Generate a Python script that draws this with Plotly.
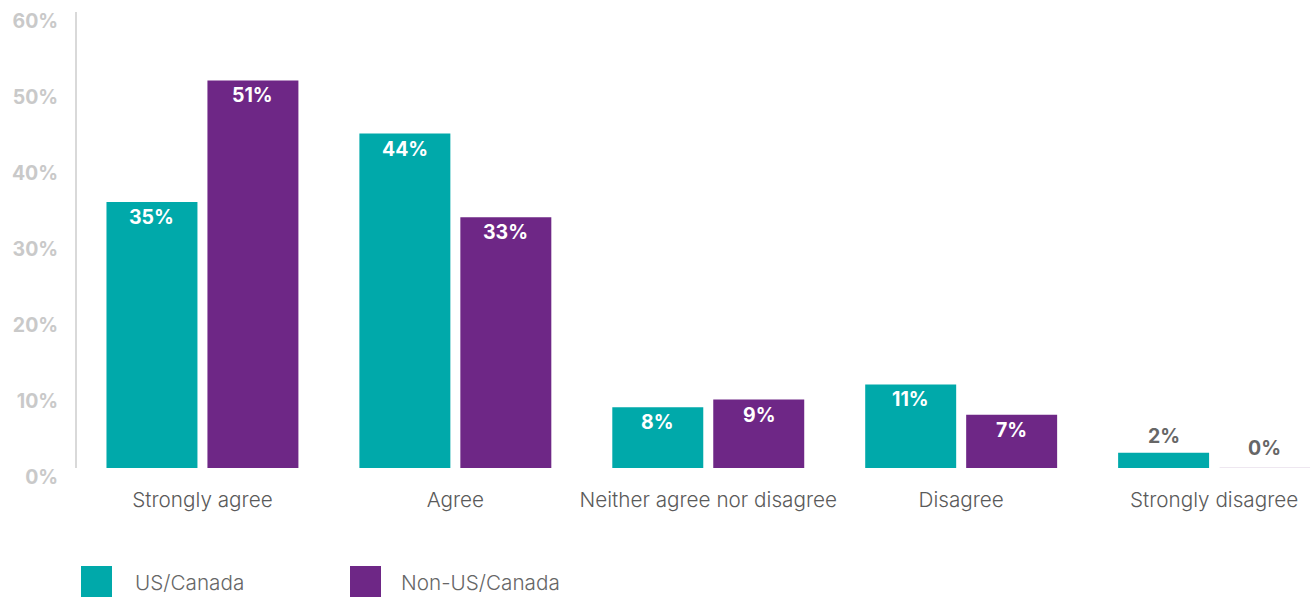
import plotly.graph_objects as go

categories = ["Strongly agree", "Agree", "Neither agree nor disagree", "Disagree", "Strongly disagree"]
us_canada = [35, 44, 8, 11, 2]
non_us_canada = [51, 33, 9, 7, 0]
series_names = ["US/Canada", "Non-US/Canada"]
y_ticks = [0, 10, 20, 30, 40, 50, 60]
y_tick_labels = ["0%", "10%", "20%", "30%", "40%", "50%", "60%"]

TEAL = "#00A9AA"
PURPLE = "#6E2786"
FONT = "Inter, 'Open Sans', sans-serif"

fig = go.Figure()
for name, vals, color in [(series_names[0], us_canada, TEAL), (series_names[1], non_us_canada, PURPLE)]:
    fig.add_trace(go.Bar(
        x=categories, y=vals, name=name, marker=dict(color=color, line=dict(width=0)),
        showlegend=False, hoverinfo="skip",
    ))

# value labels: white inside tall bars, grey above short ones
for vals, shift in [(us_canada, -50.5), (non_us_canada, 50.5)]:
    for cat, v in zip(categories, vals):
        inside = v >= 5
        fig.add_annotation(
            x=cat, y=v, text=f"<b>{v}%</b>", showarrow=False,
            xshift=shift, yshift=(-15 if inside else (17 if v > 0 else 20)),
            font=dict(family=FONT, size=19.5, color="#ffffff" if inside else "#666666"),
        )

# hairline marking the empty bar
for i, v in enumerate(non_us_canada):
    if v == 0:
        fig.add_shape(type="line", xref="x", yref="y", xsizemode="pixel", xanchor=i,
                      x0=5.5, x1=96, y0=v, y1=v, line=dict(color="#dccfe0", width=1))

# legend drawn as squares with captions along the bottom
legend_pos = [(81, 133), (350, 399)]
for (sx, tx), name, color in zip(legend_pos, series_names, [TEAL, PURPLE]):
    fig.add_shape(type="rect", xref="paper", yref="paper", xsizemode="pixel", ysizemode="pixel",
                  xanchor=0, yanchor=0, x0=sx - 77, x1=sx - 77 + 31, y0=-98, y1=-129,
                  fillcolor=color, line=dict(width=0))
    fig.add_annotation(xref="paper", yref="paper", x=0, y=0, xshift=tx - 77, yshift=-114,
                       xanchor="left", yanchor="middle", text=name, showarrow=False,
                       font=dict(family=FONT, size=20.7, color="#666666", weight=300))

fig.update_layout(
    width=1315, height=599,
    margin=dict(l=77, r=0, t=12, b=131),
    paper_bgcolor="white", plot_bgcolor="white",
    barmode="group", bargap=0.2016, bargroupgap=0.099,
    font=dict(family=FONT),
)
fig.update_xaxes(
    range=[-0.496, 4.399], showline=False, showgrid=False, zeroline=False, ticks="",
    tickfont=dict(family=FONT, size=20.7, color="#5a5a5a", weight=300), ticklabelstandoff=17,
)
fig.update_yaxes(
    range=[0, 60], tickvals=y_ticks, ticktext=[f"<b>{t}</b>" for t in y_tick_labels],
    showgrid=False, zeroline=False, showline=True, linecolor="#d9d9d9", linewidth=2,
    ticks="", tickfont=dict(family=FONT, size=19.5, color="#c9c9c9"),
    ticklabelstandoff=13, ticklabelshift=9,
)

fig.write_html("out.html")
